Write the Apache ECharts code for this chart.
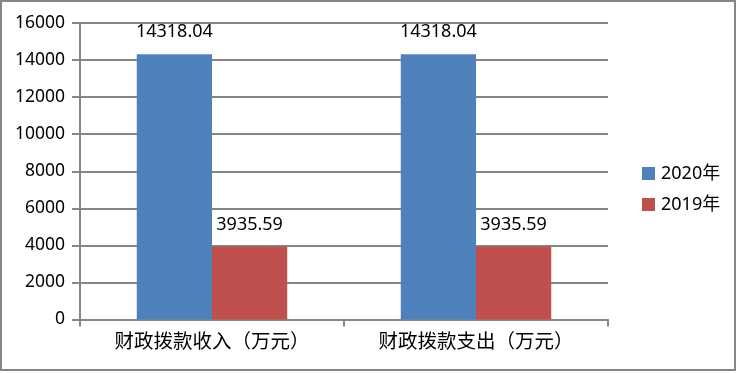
<!DOCTYPE html>
<html><head><meta charset="utf-8">
<script src="https://cdn.jsdelivr.net/npm/echarts@6/dist/echarts.min.js"></script>
<style>html,body{margin:0;padding:0;background:#fff}#c{width:737px;height:373px}</style>
</head><body><div id="c"></div>
<script>
const categories = ['财政拨款收入（万元）', '财政拨款支出（万元）'];
const series2020 = [14318.04, 14318.04];
const series2019 = [3935.59, 3935.59];
const seriesNames = ['2020年', '2019年'];

const chart = echarts.init(document.getElementById('c'), null, {renderer: 'canvas'});
const gridColor = '#868686';
const font = '"Noto Sans", "Noto Sans CJK SC", sans-serif';
const labelStyle = {show: true, position: 'top', distance: 13, color: '#000', fontSize: 18, fontFamily: font};
chart.setOption({
  animation: false,
  graphic: [{type: 'rect', shape: {x: 1, y: 1, width: 734, height: 369}, style: {fill: 'none', stroke: gridColor, lineWidth: 2}}],
  grid: {left: 80, right: 129, top: 23, bottom: 53.5},
  legend: {
    orient: 'vertical', left: 637, top: 159, itemWidth: 13, itemHeight: 13, itemGap: 12,
    icon: 'rect', textStyle: {fontSize: 18, lineHeight: 19, fontFamily: font, color: '#000', padding: [0, 0, 0, 1]},
    data: seriesNames
  },
  xAxis: {
    type: 'category', data: categories,
    axisLine: {lineStyle: {color: gridColor, width: 2}},
    axisTick: {show: true, length: 7, lineStyle: {color: gridColor, width: 2}},
    axisLabel: {color: '#000', fontSize: 19.5, fontFamily: font, margin: 13}
  },
  yAxis: {
    type: 'value', min: 0, max: 16000, interval: 2000,
    axisLine: {show: true, lineStyle: {color: gridColor, width: 2}},
    axisTick: {show: true, length: 8, lineStyle: {color: gridColor, width: 2}},
    splitLine: {lineStyle: {color: gridColor, width: 2}},
    axisLabel: {color: '#000', fontSize: 17.5, fontFamily: font, margin: 15, formatter: v => String(v)}
  },
  series: [
    {name: seriesNames[0], type: 'bar', data: series2020, barGap: '0%', barCategoryGap: '43%', itemStyle: {color: '#4F81BD'}, label: labelStyle},
    {name: seriesNames[1], type: 'bar', data: series2019, itemStyle: {color: '#C0504D'}, label: labelStyle}
  ]
});
</script></body></html>
